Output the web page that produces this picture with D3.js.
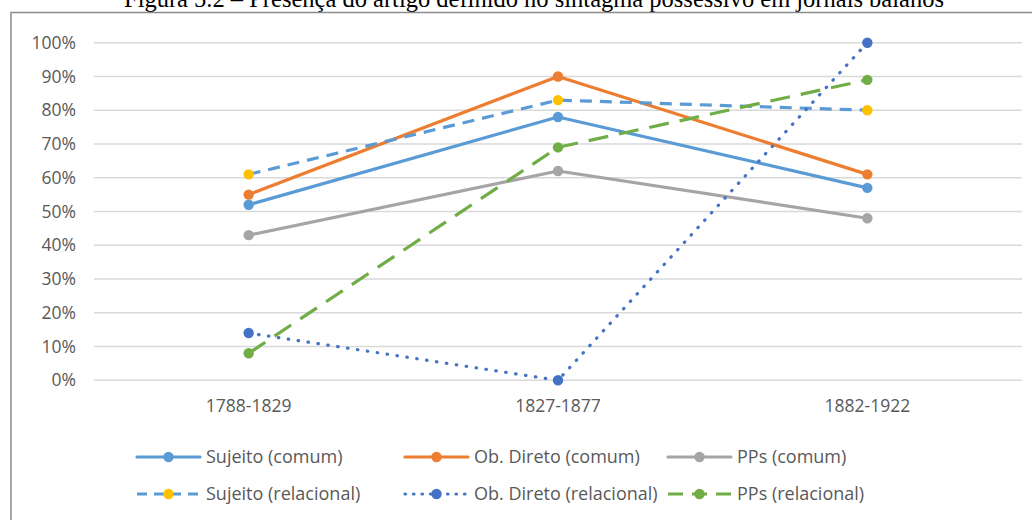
<!DOCTYPE html>
<html><head><meta charset="utf-8">
<script src="https://cdn.jsdelivr.net/npm/d3@7"></script>
<style>body{margin:0;background:#fff}svg{display:block}</style>
</head><body><svg id="c" width="1032" height="520"></svg>
<script>
const title = "Figura 5.2 – Presença do artigo definido no sintagma possessivo em jornais baianos";
const categories = ["1788-1829", "1827-1877", "1882-1922"];
const yTicks = [0, 0.1, 0.2, 0.3, 0.4, 0.5, 0.6, 0.7, 0.8, 0.9, 1.0];
const seriesNames = ["Sujeito (comum)", "Ob. Direto (comum)", "PPs (comum)",
                     "Sujeito (relacional)", "Ob. Direto (relacional)", "PPs (relacional)"];
const sujeitoComum = [0.52, 0.78, 0.57];
const obDiretoComum = [0.55, 0.90, 0.61];
const ppsComum = [0.43, 0.62, 0.48];
const sujeitoRelacional = [0.61, 0.83, 0.80];
const obDiretoRelacional = [0.14, 0.00, 1.00];
const ppsRelacional = [0.08, 0.69, 0.89];

const seriesValues = [sujeitoComum, obDiretoComum, ppsComum, sujeitoRelacional, obDiretoRelacional, ppsRelacional];
const styles = [
  {line: "#5B9BD5", marker: "#5B9BD5", dash: null, cap: "round"},
  {line: "#ED7D31", marker: "#ED7D31", dash: null, cap: "round"},
  {line: "#A5A5A5", marker: "#A5A5A5", dash: null, cap: "round"},
  {line: "#5B9BD5", marker: "#FFC000", dash: "12 8", cap: "butt"},
  {line: "#4472C4", marker: "#4472C4", dash: "0.5 9.5", cap: "round"},
  {line: "#70AD47", marker: "#70AD47", dash: "20 11", cap: "butt"}
];

const svg = d3.select("#c");
const font = "'Open Sans', Lato, sans-serif";
const textColor = "#595959";

// title (cut off at top, as in the source image)
svg.append("text").attr("x", 534).attr("y", 6.5).attr("text-anchor", "middle")
  .attr("font-family", "'Liberation Serif', 'Times New Roman', serif").attr("font-size", 24.5)
  .attr("fill", "#000").text(title);

// border
svg.append("rect").attr("x", 11).attr("y", 12.5).attr("width", 1040).attr("height", 520)
  .attr("fill", "none").attr("stroke", "#8c8c8c").attr("stroke-width", 1.5);

const x = d3.scaleBand().domain(categories).range([94, 1022]).padding(0);
const y = d3.scaleLinear().domain([0, 1]).range([380.3, 42.7]);

// gridlines
svg.append("g").selectAll("line").data(yTicks).join("line")
  .attr("x1", 94).attr("x2", 1022)
  .attr("y1", d => y(d)).attr("y2", d => y(d))
  .attr("stroke", "#d9d9d9").attr("stroke-width", 1.5);

// y axis labels
const yAxis = d3.axisLeft(y).tickValues(yTicks).tickFormat(d3.format(".0%")).tickSize(0).tickPadding(0);
const gy = svg.append("g").attr("transform", "translate(76,0)").call(yAxis);
gy.select(".domain").remove();
gy.selectAll("text").attr("font-family", font).attr("font-size", 17.5).attr("fill", textColor);

// x axis labels
const xAxis = d3.axisBottom(x).tickSize(0).tickPadding(0);
const gx = svg.append("g").attr("transform", "translate(0,400)").call(xAxis);
gx.select(".domain").remove();
gx.selectAll("text").attr("font-family", font).attr("font-size", 17.5).attr("fill", textColor);

const cx = d => x(d) + x.bandwidth() / 2;
const line = d3.line().x((d, i) => cx(categories[i])).y(d => y(d));

seriesValues.forEach((vals, k) => {
  const st = styles[k];
  const g = svg.append("g");
  g.append("path").attr("d", line(vals)).attr("fill", "none")
    .attr("stroke", st.line).attr("stroke-width", 3.2)
    .attr("stroke-linecap", st.cap).attr("stroke-linejoin", "round")
    .attr("stroke-dasharray", st.dash);
  g.selectAll("circle").data(vals).join("circle")
    .attr("cx", (d, i) => cx(categories[i])).attr("cy", d => y(d)).attr("r", 5.2)
    .attr("fill", st.marker);
});

// legend
const legCols = [137, 405, 668];
const legRows = [457, 494];
seriesNames.forEach((name, k) => {
  const st = styles[k];
  const lx = legCols[k % 3], ly = legRows[Math.floor(k / 3)];
  const g = svg.append("g");
  g.append("line").attr("x1", lx).attr("x2", lx + 63).attr("y1", ly).attr("y2", ly)
    .attr("stroke", st.line).attr("stroke-width", 3.2)
    .attr("stroke-linecap", st.cap)
    .attr("stroke-dasharray", st.dash ? (k === 4 ? "0.5 8" : (k === 3 ? "10 7" : "15 9")) : null);
  g.append("circle").attr("cx", lx + 31.5).attr("cy", ly).attr("r", 5.2).attr("fill", st.marker);
  g.append("text").attr("x", lx + 69).attr("y", ly).attr("dy", "0.35em")
    .attr("font-family", font).attr("font-size", 18).attr("fill", textColor).text(name);
});
</script></body></html>
